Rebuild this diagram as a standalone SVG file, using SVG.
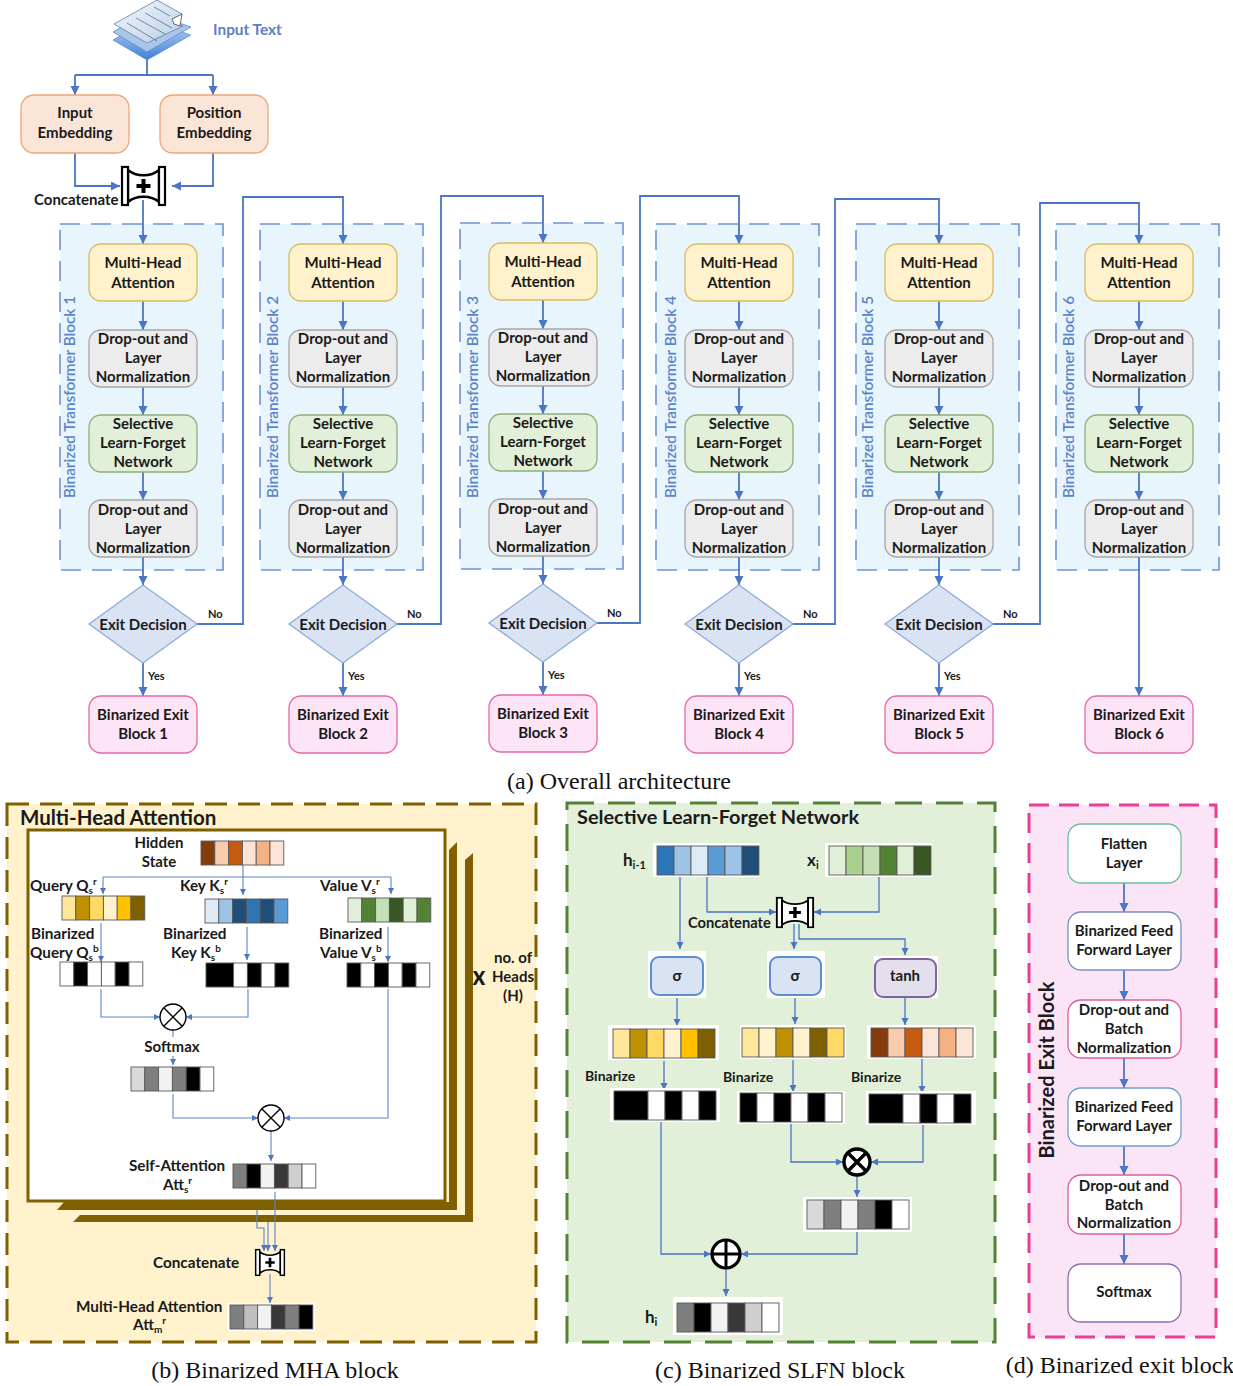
<svg xmlns="http://www.w3.org/2000/svg" width="1233" height="1386" viewBox="0 0 1233 1386">
<style>
text{font-family:Lato,"Open Sans","Liberation Sans",sans-serif;font-weight:700;fill:#1a1a1a}
.t{font-size:15px;text-anchor:middle}
.l{font-size:15.3px}
.sm{font-size:11px}
.h{font-size:20.5px}
.v{font-size:15.3px;font-weight:600;fill:#5b85c8;text-anchor:middle}
.cap{font-family:"Liberation Serif",serif;font-weight:400;font-size:24px;text-anchor:middle;fill:#111}
.sb{font-size:10px}
.sp{font-size:10px}
.cn{fill:#e8f5fc;stroke:#6f93d6;stroke-width:1.6;stroke-dasharray:20 11}
.mha{fill:#fff2cc;stroke:#d9bb5f;stroke-width:1.3}
.drp{fill:#ececec;stroke:#a6a6a6;stroke-width:1.3}
.sl{fill:#e2efd9;stroke:#8fb07a;stroke-width:1.3}
.dia{fill:#dae3f3;stroke:#8faadc;stroke-width:1.3}
.ex{fill:#fde4f7;stroke:#e667a8;stroke-width:1.3}
.em{fill:#fbe5d6;stroke:#eda77c;stroke-width:1.3}
.e{fill:none;stroke:#4a76c4;stroke-width:1.8;marker-end:url(#a)}
.n{fill:none;stroke:#4a76c4;stroke-width:1.8}
.f{fill:none;stroke:#5b84c8;stroke-width:1.1;marker-end:url(#s)}
.g{fill:none;stroke:#5b84c8;stroke-width:1.1}
.m{fill:none;stroke:#4a76c4;stroke-width:1.3;marker-end:url(#b)}
.o{stroke:#595959;stroke-width:.9}
.halo{fill:#fff}
.sg{fill:#dae3f3;stroke:#5b8fd0;stroke-width:2}
</style>
<defs>
<marker id="a" markerUnits="userSpaceOnUse" markerWidth="10" markerHeight="10" refX="9" refY="4.5" orient="auto"><path d="M0,0L9,4.5L0,9z" fill="#4a76c4"/></marker>
<marker id="b" markerUnits="userSpaceOnUse" markerWidth="8" markerHeight="8" refX="7" refY="3.5" orient="auto"><path d="M0,0L7,3.5L0,7z" fill="#4a76c4"/></marker>
<marker id="s" markerUnits="userSpaceOnUse" markerWidth="7" markerHeight="7" refX="6" refY="3" orient="auto"><path d="M0,0L6,3L0,6z" fill="#4a76c4"/></marker>
<g id="cc">
<path d="M7 4C15 11 30 11 38 4V36C30 29 15 29 7 36Z" fill="#fff" stroke="#000" stroke-width="2.4"/>
<rect x="1" y="1" width="6" height="38" fill="#fff" stroke="#000" stroke-width="2.2"/>
<rect x="38" y="1" width="6" height="38" fill="#fff" stroke="#000" stroke-width="2.2"/>
<path d="M22.5 13V27M15.5 20H29.5" stroke="#000" stroke-width="4" fill="none"/>
</g>
<linearGradient id="st" x1="0" y1="0" x2="0" y2="1"><stop offset="0" stop-color="#c5d8f0"/><stop offset="1" stop-color="#3f7fd6"/></linearGradient>
<linearGradient id="pg" x1="0" y1="0" x2="1" y2="1"><stop offset="0" stop-color="#f4f8fd"/><stop offset="1" stop-color="#b9cfe8"/></linearGradient>
</defs>
<rect width="1233" height="1386" fill="#fff"/>

<g id="containers">
<rect id="block1-box" class="cn" x="60" y="224" width="163" height="346"/>
<rect id="block2-box" class="cn" x="260" y="224" width="163" height="346"/>
<rect id="block3-box" class="cn" x="460" y="223" width="163" height="346"/>
<rect id="block4-box" class="cn" x="656" y="224" width="163" height="346"/>
<rect id="block5-box" class="cn" x="856" y="224" width="163" height="346"/>
<rect id="block6-box" class="cn" x="1056" y="224" width="163" height="346"/>
<text class="v" x="75" y="397" transform="rotate(-90 75 397)">Binarized Transformer Block 1</text>
<text class="v" x="278" y="397" transform="rotate(-90 278 397)">Binarized Transformer Block 2</text>
<text class="v" x="478" y="397" transform="rotate(-90 478 397)">Binarized Transformer Block 3</text>
<text class="v" x="676" y="397" transform="rotate(-90 676 397)">Binarized Transformer Block 4</text>
<text class="v" x="873" y="397" transform="rotate(-90 873 397)">Binarized Transformer Block 5</text>
<text class="v" x="1074" y="397" transform="rotate(-90 1074 397)">Binarized Transformer Block 6</text>
</g>

<g id="connectors-a">
<path class="n" d="M147 60V75M75 75H213"/>
<path class="e" d="M75 75V95"/><path class="e" d="M213 75V95"/>
<path class="e" d="M75 153V186H120"/><path class="e" d="M213 153V186H172"/>
<path class="e" d="M143 200V244"/>
<path class="e" d="M143 301V330"/><path class="e" d="M143 387V415"/><path class="e" d="M143 472V500"/><path class="e" d="M143 557V585"/><path class="e" d="M143 663V696"/>
<path class="e" d="M197 624H243V197H343V244"/>
<path class="e" d="M343 301V330"/><path class="e" d="M343 387V415"/><path class="e" d="M343 472V500"/><path class="e" d="M343 557V585"/><path class="e" d="M343 663V696"/>
<path class="e" d="M397 624H441V196H543V243"/>
<path class="e" d="M543 300V329"/><path class="e" d="M543 386V414"/><path class="e" d="M543 471V499"/><path class="e" d="M543 556V584"/><path class="e" d="M543 662V695"/>
<path class="e" d="M597 623H640V196H739V244"/>
<path class="e" d="M739 301V330"/><path class="e" d="M739 387V415"/><path class="e" d="M739 472V500"/><path class="e" d="M739 557V585"/><path class="e" d="M739 663V696"/>
<path class="e" d="M793 624H835V199H939V244"/>
<path class="e" d="M939 301V330"/><path class="e" d="M939 387V415"/><path class="e" d="M939 472V500"/><path class="e" d="M939 557V585"/><path class="e" d="M939 663V696"/>
<path class="e" d="M993 624H1040V203H1139V244"/>
<path class="e" d="M1139 301V330"/><path class="e" d="M1139 387V415"/><path class="e" d="M1139 472V500"/><path class="e" d="M1139 557V696"/>
</g>

<g id="input-text">
<path d="M113 40L147 20L191 35L147 60Z" fill="url(#st)" stroke="#4a80cf" stroke-width=".6"/>
<path d="M113 32L147 12L191 27L147 52Z" fill="#a9c6ea" stroke="#5d8ccc" stroke-width=".8"/>
<path d="M114 24L157 0L182 14L176 24L183 26L147 43Z" fill="url(#pg)" stroke="#5f7f9f" stroke-width=".8"/>
<path d="M172 19L182 14L180 26L174 24Z" fill="#fff" stroke="#444" stroke-width=".8"/>
<path d="M127 24L157 42M136 19L165 35M145 14L172 29M154 8L170 17" stroke="#5c6f84" stroke-width=".8" transform="translate(0 -1)"/>
<text x="213" y="35" style="font-size:15.4px;fill:#5b80c4;font-weight:700">Input Text</text>
</g>
<g id="input-embedding"><rect class="em" x="21" y="95" width="108" height="58" rx="13"/><text class="t" x="75" y="118">Input</text><text class="t" x="75" y="138">Embedding</text></g>
<g id="position-embedding"><rect class="em" x="160" y="95" width="108" height="58" rx="13"/><text class="t" x="214" y="118">Position</text><text class="t" x="214" y="138">Embedding</text></g>
<g id="concat-main"><use href="#cc" transform="translate(121 166)"/><text x="34" y="205" style="font-size:15px">Concatenate</text></g>

<g id="b1-mha"><rect class="mha" x="89" y="244" width="108" height="57" rx="12"/><text class="t" x="143" y="268">Multi-Head</text><text class="t" x="143" y="288">Attention</text></g>
<g id="b1-drop1"><rect class="drp" x="89" y="330" width="108" height="57" rx="12"/><text class="t" x="143" y="344">Drop-out and</text><text class="t" x="143" y="363">Layer</text><text class="t" x="143" y="382">Normalization</text></g>
<g id="b1-slfn"><rect class="sl" x="89" y="415" width="108" height="57" rx="12"/><text class="t" x="143" y="429">Selective</text><text class="t" x="143" y="448">Learn-Forget</text><text class="t" x="143" y="467">Network</text></g>
<g id="b1-drop2"><rect class="drp" x="89" y="500" width="108" height="57" rx="12"/><text class="t" x="143" y="515">Drop-out and</text><text class="t" x="143" y="534">Layer</text><text class="t" x="143" y="553">Normalization</text></g>
<g id="b1-decision"><path class="dia" d="M143 585L197 624L143 663L89 624Z"/><text class="t" x="143" y="630">Exit Decision</text><text class="sm" x="208" y="618">No</text><text class="sm" x="148" y="680">Yes</text></g>
<g id="b1-exit"><rect class="ex" x="89" y="696" width="108" height="57" rx="12"/><text class="t" x="143" y="720">Binarized Exit</text><text class="t" x="143" y="739">Block 1</text></g>

<g id="b2-mha"><rect class="mha" x="289" y="244" width="108" height="57" rx="12"/><text class="t" x="343" y="268">Multi-Head</text><text class="t" x="343" y="288">Attention</text></g>
<g id="b2-drop1"><rect class="drp" x="289" y="330" width="108" height="57" rx="12"/><text class="t" x="343" y="344">Drop-out and</text><text class="t" x="343" y="363">Layer</text><text class="t" x="343" y="382">Normalization</text></g>
<g id="b2-slfn"><rect class="sl" x="289" y="415" width="108" height="57" rx="12"/><text class="t" x="343" y="429">Selective</text><text class="t" x="343" y="448">Learn-Forget</text><text class="t" x="343" y="467">Network</text></g>
<g id="b2-drop2"><rect class="drp" x="289" y="500" width="108" height="57" rx="12"/><text class="t" x="343" y="515">Drop-out and</text><text class="t" x="343" y="534">Layer</text><text class="t" x="343" y="553">Normalization</text></g>
<g id="b2-decision"><path class="dia" d="M343 585L397 624L343 663L289 624Z"/><text class="t" x="343" y="630">Exit Decision</text><text class="sm" x="407" y="618">No</text><text class="sm" x="348" y="680">Yes</text></g>
<g id="b2-exit"><rect class="ex" x="289" y="696" width="108" height="57" rx="12"/><text class="t" x="343" y="720">Binarized Exit</text><text class="t" x="343" y="739">Block 2</text></g>

<g id="b3-mha"><rect class="mha" x="489" y="243" width="108" height="57" rx="12"/><text class="t" x="543" y="267">Multi-Head</text><text class="t" x="543" y="287">Attention</text></g>
<g id="b3-drop1"><rect class="drp" x="489" y="329" width="108" height="57" rx="12"/><text class="t" x="543" y="343">Drop-out and</text><text class="t" x="543" y="362">Layer</text><text class="t" x="543" y="381">Normalization</text></g>
<g id="b3-slfn"><rect class="sl" x="489" y="414" width="108" height="57" rx="12"/><text class="t" x="543" y="428">Selective</text><text class="t" x="543" y="447">Learn-Forget</text><text class="t" x="543" y="466">Network</text></g>
<g id="b3-drop2"><rect class="drp" x="489" y="499" width="108" height="57" rx="12"/><text class="t" x="543" y="514">Drop-out and</text><text class="t" x="543" y="533">Layer</text><text class="t" x="543" y="552">Normalization</text></g>
<g id="b3-decision"><path class="dia" d="M543 584L597 623L543 662L489 623Z"/><text class="t" x="543" y="629">Exit Decision</text><text class="sm" x="607" y="617">No</text><text class="sm" x="548" y="679">Yes</text></g>
<g id="b3-exit"><rect class="ex" x="489" y="695" width="108" height="57" rx="12"/><text class="t" x="543" y="719">Binarized Exit</text><text class="t" x="543" y="738">Block 3</text></g>

<g id="b4-mha"><rect class="mha" x="685" y="244" width="108" height="57" rx="12"/><text class="t" x="739" y="268">Multi-Head</text><text class="t" x="739" y="288">Attention</text></g>
<g id="b4-drop1"><rect class="drp" x="685" y="330" width="108" height="57" rx="12"/><text class="t" x="739" y="344">Drop-out and</text><text class="t" x="739" y="363">Layer</text><text class="t" x="739" y="382">Normalization</text></g>
<g id="b4-slfn"><rect class="sl" x="685" y="415" width="108" height="57" rx="12"/><text class="t" x="739" y="429">Selective</text><text class="t" x="739" y="448">Learn-Forget</text><text class="t" x="739" y="467">Network</text></g>
<g id="b4-drop2"><rect class="drp" x="685" y="500" width="108" height="57" rx="12"/><text class="t" x="739" y="515">Drop-out and</text><text class="t" x="739" y="534">Layer</text><text class="t" x="739" y="553">Normalization</text></g>
<g id="b4-decision"><path class="dia" d="M739 585L793 624L739 663L685 624Z"/><text class="t" x="739" y="630">Exit Decision</text><text class="sm" x="803" y="618">No</text><text class="sm" x="744" y="680">Yes</text></g>
<g id="b4-exit"><rect class="ex" x="685" y="696" width="108" height="57" rx="12"/><text class="t" x="739" y="720">Binarized Exit</text><text class="t" x="739" y="739">Block 4</text></g>

<g id="b5-mha"><rect class="mha" x="885" y="244" width="108" height="57" rx="12"/><text class="t" x="939" y="268">Multi-Head</text><text class="t" x="939" y="288">Attention</text></g>
<g id="b5-drop1"><rect class="drp" x="885" y="330" width="108" height="57" rx="12"/><text class="t" x="939" y="344">Drop-out and</text><text class="t" x="939" y="363">Layer</text><text class="t" x="939" y="382">Normalization</text></g>
<g id="b5-slfn"><rect class="sl" x="885" y="415" width="108" height="57" rx="12"/><text class="t" x="939" y="429">Selective</text><text class="t" x="939" y="448">Learn-Forget</text><text class="t" x="939" y="467">Network</text></g>
<g id="b5-drop2"><rect class="drp" x="885" y="500" width="108" height="57" rx="12"/><text class="t" x="939" y="515">Drop-out and</text><text class="t" x="939" y="534">Layer</text><text class="t" x="939" y="553">Normalization</text></g>
<g id="b5-decision"><path class="dia" d="M939 585L993 624L939 663L885 624Z"/><text class="t" x="939" y="630">Exit Decision</text><text class="sm" x="1003" y="618">No</text><text class="sm" x="944" y="680">Yes</text></g>
<g id="b5-exit"><rect class="ex" x="885" y="696" width="108" height="57" rx="12"/><text class="t" x="939" y="720">Binarized Exit</text><text class="t" x="939" y="739">Block 5</text></g>

<g id="b6-mha"><rect class="mha" x="1085" y="244" width="108" height="57" rx="12"/><text class="t" x="1139" y="268">Multi-Head</text><text class="t" x="1139" y="288">Attention</text></g>
<g id="b6-drop1"><rect class="drp" x="1085" y="330" width="108" height="57" rx="12"/><text class="t" x="1139" y="344">Drop-out and</text><text class="t" x="1139" y="363">Layer</text><text class="t" x="1139" y="382">Normalization</text></g>
<g id="b6-slfn"><rect class="sl" x="1085" y="415" width="108" height="57" rx="12"/><text class="t" x="1139" y="429">Selective</text><text class="t" x="1139" y="448">Learn-Forget</text><text class="t" x="1139" y="467">Network</text></g>
<g id="b6-drop2"><rect class="drp" x="1085" y="500" width="108" height="57" rx="12"/><text class="t" x="1139" y="515">Drop-out and</text><text class="t" x="1139" y="534">Layer</text><text class="t" x="1139" y="553">Normalization</text></g>
<g id="b6-exit"><rect class="ex" x="1085" y="696" width="108" height="57" rx="12"/><text class="t" x="1139" y="720">Binarized Exit</text><text class="t" x="1139" y="739">Block 6</text></g>

<text class="cap" x="619" y="789">(a) Overall architecture</text>

<g id="panel-mha">
<rect x="7" y="804" width="529" height="538" fill="#fff2cc"/>
<rect x="7" y="804" width="529" height="538" fill="none" stroke="#7f6000" stroke-width="3" stroke-dasharray="22 11"/>
<path d="M465 860L473 853V1222H73L80 1215H465Z" fill="#7f6000"/>
<path d="M449 850L457 842V1210H57L64 1202H449Z" fill="#7f6000"/>
<rect x="28" y="830" width="417" height="371" fill="#fff" stroke="#7f6000" stroke-width="3"/>
<text x="20" y="825" class="h">Multi-Head Attention</text>
</g>
<g id="mha-connectors">
<path class="g" d="M103 877H391"/>
<path class="f" d="M243 865V895"/><path class="f" d="M103 877V894"/><path class="f" d="M391 877V894"/>
<path class="f" d="M101 923V962"/><path class="f" d="M247 927V960"/><path class="f" d="M388 927V962"/>
<path class="f" d="M101 989V1017H160"/><path class="f" d="M248 989V1017H186"/>
<path class="g" d="M173 1030V1037"/><path class="f" d="M173 1056V1065"/>
<path class="f" d="M173 1094V1118H258"/><path class="f" d="M388 989V1118H284"/>
<path class="f" d="M271 1131V1161"/>
<path class="f" d="M275 1192V1251"/><path class="f" d="M257 1210V1228H264V1251"/><path class="f" d="M268 1222V1251"/>
<path class="f" d="M270 1274V1303"/>
</g>
<g id="mha-hidden"><text class="t" x="159" y="848">Hidden</text><text class="t" x="159" y="867">State</text>
<g class="o"><rect x="201" y="841" width="13.8" height="24" fill="#843c0c"/><rect x="214.8" y="841" width="13.8" height="24" fill="#f8cbad"/><rect x="228.6" y="841" width="13.8" height="24" fill="#c55a11"/><rect x="242.4" y="841" width="13.8" height="24" fill="#fbe5d6"/><rect x="256.2" y="841" width="13.8" height="24" fill="#f4b183"/><rect x="270" y="841" width="13.8" height="24" fill="#fbe5d6"/></g></g>
<g id="mha-query"><text class="l" x="30" y="891">Query Q<tspan class="sb" dy="3">s</tspan><tspan class="sp" dy="-9">r</tspan></text>
<g class="o"><rect x="62" y="896" width="13.8" height="24" fill="#ffe699"/><rect x="75.8" y="896" width="13.8" height="24" fill="#bf9000"/><rect x="89.6" y="896" width="13.8" height="24" fill="#ffd966"/><rect x="103.4" y="896" width="13.8" height="24" fill="#fff2cc"/><rect x="117.2" y="896" width="13.8" height="24" fill="#ffc000"/><rect x="131" y="896" width="13.8" height="24" fill="#7f6000"/></g></g>
<g id="mha-key"><text class="l" x="180" y="891">Key K<tspan class="sb" dy="3">s</tspan><tspan class="sp" dy="-9">r</tspan></text>
<g class="o"><rect x="205" y="899" width="13.8" height="24" fill="#deebf7"/><rect x="218.8" y="899" width="13.8" height="24" fill="#9dc3e6"/><rect x="232.6" y="899" width="13.8" height="24" fill="#1f4e79"/><rect x="246.4" y="899" width="13.8" height="24" fill="#2e75b6"/><rect x="260.2" y="899" width="13.8" height="24" fill="#1f4e79"/><rect x="274" y="899" width="13.8" height="24" fill="#5b9bd5"/></g></g>
<g id="mha-value"><text class="l" x="320" y="891">Value V<tspan class="sb" dy="3">s</tspan><tspan class="sp" dy="-9">r</tspan></text>
<g class="o"><rect x="348" y="898" width="13.8" height="24" fill="#e2f0d9"/><rect x="361.8" y="898" width="13.8" height="24" fill="#548235"/><rect x="375.6" y="898" width="13.8" height="24" fill="#c5e0b4"/><rect x="389.4" y="898" width="13.8" height="24" fill="#385723"/><rect x="403.2" y="898" width="13.8" height="24" fill="#e2f0d9"/><rect x="417" y="898" width="13.8" height="24" fill="#548235"/></g></g>
<g id="mha-bin-query"><text class="l" x="31" y="939">Binarized</text><text class="l" x="30" y="958">Query Q<tspan class="sb" dy="3">s</tspan><tspan class="sp" dy="-9">b</tspan></text>
<g class="o"><rect x="60" y="962" width="13.8" height="24" fill="#fff"/><rect x="73.8" y="962" width="13.8" height="24" fill="#000"/><rect x="87.6" y="962" width="13.8" height="24" fill="#fff"/><rect x="101.4" y="962" width="13.8" height="24" fill="#fff"/><rect x="115.2" y="962" width="13.8" height="24" fill="#000"/><rect x="129" y="962" width="13.8" height="24" fill="#fff"/></g></g>
<g id="mha-bin-key"><text class="l" x="163" y="939">Binarized</text><text class="l" x="171" y="958">Key K<tspan class="sb" dy="3">s</tspan><tspan class="sp" dy="-9">b</tspan></text>
<g class="o"><rect x="206" y="963" width="27.6" height="24" fill="#000"/><rect x="233.6" y="963" width="13.8" height="24" fill="#fff"/><rect x="247.4" y="963" width="13.8" height="24" fill="#000"/><rect x="261.2" y="963" width="13.8" height="24" fill="#fff"/><rect x="275" y="963" width="13.8" height="24" fill="#000"/></g></g>
<g id="mha-bin-value"><text class="l" x="319" y="939">Binarized</text><text class="l" x="320" y="958">Value V<tspan class="sb" dy="3">s</tspan><tspan class="sp" dy="-9">b</tspan></text>
<g class="o"><rect x="347" y="963" width="13.8" height="24" fill="#000"/><rect x="360.8" y="963" width="13.8" height="24" fill="#fff"/><rect x="374.6" y="963" width="13.8" height="24" fill="#000"/><rect x="388.4" y="963" width="13.8" height="24" fill="#fff"/><rect x="402.2" y="963" width="13.8" height="24" fill="#000"/><rect x="416" y="963" width="13.8" height="24" fill="#fff"/></g></g>
<g id="mha-mul1"><circle cx="173" cy="1017" r="13" fill="#fff" stroke="#000" stroke-width="1.4"/><path d="M164 1008L182 1026M182 1008L164 1026" stroke="#000" stroke-width="1.4"/></g>
<g id="mha-softmax"><text class="t" x="172" y="1052">Softmax</text>
<g class="o"><rect x="131" y="1067" width="13.8" height="24" fill="#d9d9d9"/><rect x="144.8" y="1067" width="13.8" height="24" fill="#7f7f7f"/><rect x="158.6" y="1067" width="13.8" height="24" fill="#f2f2f2"/><rect x="172.4" y="1067" width="13.8" height="24" fill="#7f7f7f"/><rect x="186.2" y="1067" width="13.8" height="24" fill="#000"/><rect x="200" y="1067" width="13.8" height="24" fill="#fff"/></g></g>
<g id="mha-mul2"><circle cx="271" cy="1118" r="13" fill="#fff" stroke="#000" stroke-width="1.4"/><path d="M262 1109L280 1127M280 1109L262 1127" stroke="#000" stroke-width="1.4"/></g>
<g id="mha-self"><text class="l" x="129" y="1171">Self-Attention</text><text class="l" x="163" y="1190">Att<tspan class="sb" dy="3">s</tspan><tspan class="sp" dy="-9">r</tspan></text>
<g class="o"><rect x="233" y="1164" width="13.8" height="24" fill="#7f7f7f"/><rect x="246.8" y="1164" width="13.8" height="24" fill="#000"/><rect x="260.6" y="1164" width="13.8" height="24" fill="#f2f2f2"/><rect x="274.4" y="1164" width="13.8" height="24" fill="#3b3838"/><rect x="288.2" y="1164" width="13.8" height="24" fill="#d0cece"/><rect x="302" y="1164" width="13.8" height="24" fill="#fff"/></g></g>
<g id="mha-concat"><text class="l" x="153" y="1268">Concatenate</text><use href="#cc" transform="translate(255 1249) scale(.667 .675)"/></g>
<g id="mha-att"><text class="l" x="76" y="1312">Multi-Head Attention</text><text class="l" x="133" y="1330">Att<tspan class="sb" dy="3">m</tspan><tspan class="sp" dy="-9">r</tspan></text>
<rect class="halo" x="227" y="1303" width="88" height="28"/>
<g class="o"><rect x="230" y="1305" width="13.8" height="24" fill="#7f7f7f"/><rect x="243.8" y="1305" width="13.8" height="24" fill="#bfbfbf"/><rect x="257.6" y="1305" width="13.8" height="24" fill="#f2f2f2"/><rect x="271.4" y="1305" width="13.8" height="24" fill="#3b3838"/><rect x="285.2" y="1305" width="13.8" height="24" fill="#7f7f7f"/><rect x="299" y="1305" width="13.8" height="24" fill="#000"/></g></g>
<g id="mha-heads"><text x="479" y="985" style="font-size:18px;font-weight:800;text-anchor:middle">X</text><text class="t" x="513" y="963">no. of</text><text class="t" x="513" y="982">Heads</text><text class="t" x="513" y="1001">(H)</text></g>
<text class="cap" x="275" y="1378">(b) Binarized MHA block</text>

<g id="panel-slfn">
<rect x="567" y="803" width="428" height="539" fill="#e2efd9"/>
<rect x="567" y="803" width="428" height="539" fill="none" stroke="#548235" stroke-width="3" stroke-dasharray="27 14"/>
<text x="577" y="824" style="font-size:19.9px">Selective Learn-Forget Network</text>
</g>
<g id="slfn-h"><text x="623" y="866" style="font-size:17px">h<tspan class="sb" style="font-size:11px" dy="3">i-1</tspan></text>
<rect class="halo" x="653" y="843" width="107" height="34"/>
<g class="o"><rect x="657" y="846" width="17" height="29" fill="#2e75b6"/><rect x="674" y="846" width="17" height="29" fill="#9dc3e6"/><rect x="691" y="846" width="17" height="29" fill="#deebf7"/><rect x="708" y="846" width="17" height="29" fill="#5b9bd5"/><rect x="725" y="846" width="17" height="29" fill="#9dc3e6"/><rect x="742" y="846" width="17" height="29" fill="#1f4e79"/></g></g>
<g id="slfn-x"><text x="807" y="866" style="font-size:17px">x<tspan class="sb" style="font-size:11px" dy="3">i</tspan></text>
<rect class="halo" x="825" y="843" width="107" height="34"/>
<g class="o"><rect x="829" y="846" width="17" height="29" fill="#e2f0d9"/><rect x="846" y="846" width="17" height="29" fill="#a9d18e"/><rect x="863" y="846" width="17" height="29" fill="#c5e0b4"/><rect x="880" y="846" width="17" height="29" fill="#548235"/><rect x="897" y="846" width="17" height="29" fill="#e2f0d9"/><rect x="914" y="846" width="17" height="29" fill="#385723"/></g></g>
<g id="slfn-connectors">
<path class="m" d="M680 877V949"/><path class="m" d="M707 877V912H776"/><path class="m" d="M879 877V912H814"/>
<path class="m" d="M794 924V949"/><path class="m" d="M799 924V939H905V955"/>
<path class="m" d="M677 998V1026"/><path class="m" d="M795 998V1024"/><path class="m" d="M905 998V1025"/>
<path class="m" d="M664 1061V1090"/><path class="m" d="M793 1060V1092"/><path class="m" d="M922 1059V1093"/>
<path class="m" d="M661 1122V1254H711"/><path class="m" d="M791 1124V1162H843"/><path class="m" d="M923 1125V1162H871"/>
<path class="m" d="M857 1175V1197"/><path class="m" d="M857 1232V1254H741"/><path class="m" d="M726 1268V1296"/>
</g>
<g id="slfn-concat"><text x="688" y="928" style="font-size:14.7px">Concatenate</text><use href="#cc" transform="translate(776 897) scale(.844 .775)"/></g>
<g id="slfn-sigma1"><rect class="halo" x="648" y="951" width="58" height="47"/><rect class="sg" x="651" y="957" width="52" height="38" rx="8"/><text class="t" x="677" y="981">σ</text></g>
<g id="slfn-sigma2"><rect class="halo" x="767" y="951" width="58" height="47"/><rect class="sg" x="770" y="957" width="51" height="38" rx="8"/><text class="t" x="795" y="981">σ</text></g>
<g id="slfn-tanh"><rect class="halo" x="874" y="956" width="64" height="42"/><rect x="875" y="959" width="61" height="38" rx="8" fill="#e4dfec" stroke="#8064a2" stroke-width="2"/><text class="t" x="905" y="981">tanh</text></g>
<g id="slfn-forget"><rect class="halo" x="608" y="1025" width="111" height="35"/>
<g class="o"><rect x="613" y="1029" width="17" height="29" fill="#ffe699"/><rect x="630" y="1029" width="17" height="29" fill="#bf9000"/><rect x="647" y="1029" width="17" height="29" fill="#ffd966"/><rect x="664" y="1029" width="17" height="29" fill="#fff2cc"/><rect x="681" y="1029" width="17" height="29" fill="#ffc000"/><rect x="698" y="1029" width="17" height="29" fill="#7f6000"/></g></g>
<g id="slfn-learn"><rect class="halo" x="740" y="1025" width="106" height="34"/>
<g class="o"><rect x="742" y="1028" width="17" height="29" fill="#ffe699"/><rect x="759" y="1028" width="17" height="29" fill="#fff2cc"/><rect x="776" y="1028" width="17" height="29" fill="#bf9000"/><rect x="793" y="1028" width="17" height="29" fill="#fff2cc"/><rect x="810" y="1028" width="17" height="29" fill="#7f6000"/><rect x="827" y="1028" width="17" height="29" fill="#ffd966"/></g></g>
<g id="slfn-tanh-strip"><rect class="halo" x="867" y="1025" width="109" height="34"/>
<g class="o"><rect x="871" y="1028" width="17" height="29" fill="#843c0c"/><rect x="888" y="1028" width="17" height="29" fill="#f8cbad"/><rect x="905" y="1028" width="17" height="29" fill="#c55a11"/><rect x="922" y="1028" width="17" height="29" fill="#fbe5d6"/><rect x="939" y="1028" width="17" height="29" fill="#f4b183"/><rect x="956" y="1028" width="17" height="29" fill="#fbe5d6"/></g></g>
<g id="slfn-bin1"><text x="585" y="1081" style="font-size:14px">Binarize</text><rect class="halo" x="610" y="1088" width="110" height="34"/>
<g class="o"><rect x="614" y="1091" width="34" height="29" fill="#000"/><rect x="648" y="1091" width="17" height="29" fill="#fff"/><rect x="665" y="1091" width="17" height="29" fill="#000"/><rect x="682" y="1091" width="17" height="29" fill="#fff"/><rect x="699" y="1091" width="17" height="29" fill="#000"/></g></g>
<g id="slfn-bin2"><text x="723" y="1082" style="font-size:14px">Binarize</text><rect class="halo" x="737" y="1091" width="108" height="33"/>
<g class="o"><rect x="740" y="1093" width="17" height="29" fill="#000"/><rect x="757" y="1093" width="17" height="29" fill="#fff"/><rect x="774" y="1093" width="17" height="29" fill="#000"/><rect x="791" y="1093" width="17" height="29" fill="#fff"/><rect x="808" y="1093" width="17" height="29" fill="#000"/><rect x="825" y="1093" width="17" height="29" fill="#fff"/></g></g>
<g id="slfn-bin3"><text x="851" y="1082" style="font-size:14px">Binarize</text><rect class="halo" x="866" y="1091" width="110" height="34"/>
<g class="o"><rect x="869" y="1094" width="34" height="29" fill="#000"/><rect x="903" y="1094" width="17" height="29" fill="#fff"/><rect x="920" y="1094" width="17" height="29" fill="#000"/><rect x="937" y="1094" width="17" height="29" fill="#fff"/><rect x="954" y="1094" width="17" height="29" fill="#000"/></g></g>
<g id="slfn-mul"><circle cx="857" cy="1162" r="13" fill="#fff" stroke="#000" stroke-width="3.4"/><path d="M848 1153L866 1171M866 1153L848 1171" stroke="#000" stroke-width="3.4"/></g>
<g id="slfn-product"><rect class="halo" x="803" y="1197" width="109" height="35"/>
<g class="o"><rect x="807" y="1200" width="17" height="29" fill="#d9d9d9"/><rect x="824" y="1200" width="17" height="29" fill="#7f7f7f"/><rect x="841" y="1200" width="17" height="29" fill="#f2f2f2"/><rect x="858" y="1200" width="17" height="29" fill="#7f7f7f"/><rect x="875" y="1200" width="17" height="29" fill="#000"/><rect x="892" y="1200" width="17" height="29" fill="#fff"/></g></g>
<g id="slfn-add"><circle cx="726" cy="1254" r="14" fill="#fff" stroke="#000" stroke-width="3.2"/><path d="M726 1240V1268M712 1254H740" stroke="#000" stroke-width="3"/></g>
<g id="slfn-hi"><text x="645" y="1323" style="font-size:17px">h<tspan class="sb" style="font-size:11px" dy="3">i</tspan></text><rect class="halo" x="673" y="1297" width="110" height="38"/>
<g class="o"><rect x="677" y="1303" width="17" height="29" fill="#7f7f7f"/><rect x="694" y="1303" width="17" height="29" fill="#000"/><rect x="711" y="1303" width="17" height="29" fill="#f2f2f2"/><rect x="728" y="1303" width="17" height="29" fill="#3b3838"/><rect x="745" y="1303" width="17" height="29" fill="#d0cece"/><rect x="762" y="1303" width="17" height="29" fill="#fff"/></g></g>
<text class="cap" x="780" y="1378">(c) Binarized SLFN block</text>

<g id="panel-exit">
<rect x="1029" y="805" width="187" height="532" fill="#fce4f7"/>
<rect x="1029" y="805" width="187" height="532" fill="none" stroke="#ea3d96" stroke-width="3" stroke-dasharray="20 10"/>
<text x="1054" y="1070" transform="rotate(-90 1054 1070)" style="font-size:20px;text-anchor:middle;font-weight:700">Binarized Exit Block</text>
</g>
<g id="exit-connectors">
<path class="e" d="M1124 883V912"/><path class="e" d="M1124 970V1000"/><path class="e" d="M1124 1058V1088"/><path class="e" d="M1124 1146V1175"/><path class="e" d="M1124 1234V1264"/>
</g>
<g id="exit-flatten"><rect x="1068" y="824" width="113" height="59" rx="13" fill="#fff" stroke="#6fbf95" stroke-width="1.3"/><text class="t" x="1124" y="849">Flatten</text><text class="t" x="1124" y="868">Layer</text></g>
<g id="exit-feed1"><rect x="1068" y="912" width="113" height="58" rx="13" fill="#fff" stroke="#7a8fc4" stroke-width="1.3"/><text class="t" x="1124" y="936">Binarized Feed</text><text class="t" x="1124" y="955">Forward Layer</text></g>
<g id="exit-drop1"><rect x="1068" y="1000" width="113" height="58" rx="13" fill="#fff" stroke="#d9609c" stroke-width="1.3"/><text class="t" x="1124" y="1015">Drop-out and</text><text class="t" x="1124" y="1034">Batch</text><text class="t" x="1124" y="1053">Normalization</text></g>
<g id="exit-feed2"><rect x="1068" y="1088" width="113" height="58" rx="13" fill="#fff" stroke="#6f9fd0" stroke-width="1.3"/><text class="t" x="1124" y="1112">Binarized Feed</text><text class="t" x="1124" y="1131">Forward Layer</text></g>
<g id="exit-drop2"><rect x="1068" y="1175" width="113" height="59" rx="13" fill="#fff" stroke="#d9609c" stroke-width="1.3"/><text class="t" x="1124" y="1191">Drop-out and</text><text class="t" x="1124" y="1210">Batch</text><text class="t" x="1124" y="1228">Normalization</text></g>
<g id="exit-softmax"><rect x="1068" y="1264" width="113" height="58" rx="13" fill="#fff" stroke="#8e6fb0" stroke-width="1.3"/><text class="t" x="1124" y="1297">Softmax</text></g>
<text class="cap" x="1120" y="1373">(d) Binarized exit block</text>
</svg>
